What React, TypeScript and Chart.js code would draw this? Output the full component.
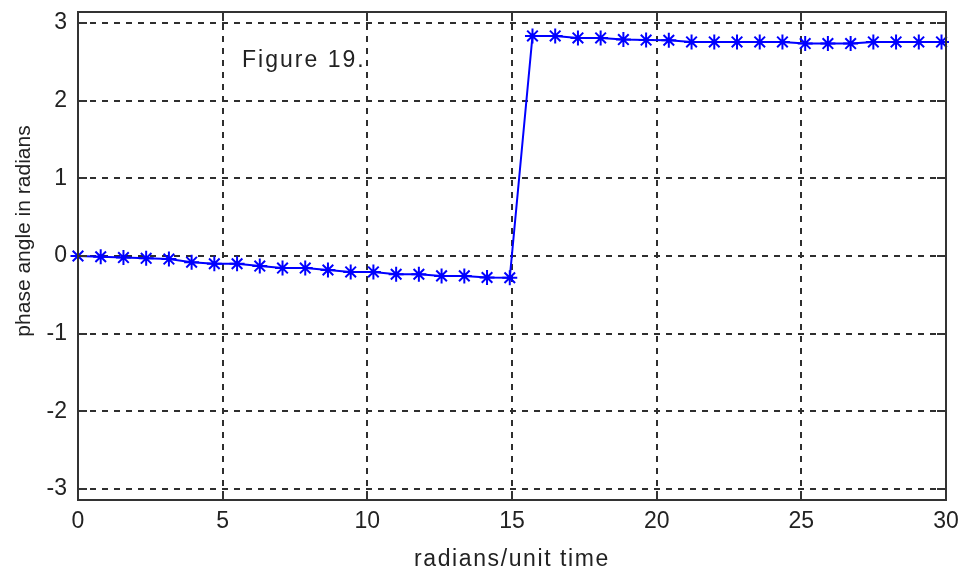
import React, { useEffect, useRef } from "react";
import { Chart, registerables } from "chart.js";

Chart.register(...registerables);

// angular frequency (radians / unit time)
const frequency = [
  0, 0.785, 1.571, 2.356, 3.142, 3.927, 4.712, 5.498, 6.283, 7.069,
  7.854, 8.639, 9.425, 10.21, 10.996, 11.781, 12.566, 13.352, 14.137, 14.923,
  15.708, 16.493, 17.279, 18.064, 18.85, 19.635, 20.42, 21.206, 21.991, 22.777,
  23.562, 24.347, 25.133, 25.918, 26.704, 27.489, 28.274, 29.06, 29.845,
];

// phase angle (radians)
const phase = [
  0, -0.01, -0.02, -0.03, -0.04, -0.08, -0.1, -0.1, -0.13, -0.155,
  -0.155, -0.18, -0.205, -0.205, -0.235, -0.235, -0.256, -0.256, -0.277, -0.28,
  2.833, 2.833, 2.808, 2.808, 2.787, 2.78, 2.778, 2.756, 2.756, 2.756,
  2.756, 2.756, 2.735, 2.735, 2.735, 2.756, 2.756, 2.756, 2.756,
];

const xTicks = [0, 5, 10, 15, 20, 25, 30];
const yTicks = [-3, -2, -1, 0, 1, 2, 3];
const xTitle = "radians/unit time";
const yTitle = "phase angle in radians";
const noteText = "Figure 19.";
const notePos = { x: 5.67, y: 2.43 };

const TEXT_COLOR = "#222222";
const FONT_FAMILY = '"Liberation Sans", Arial, sans-serif';

const matlabAxes = {
  id: "matlabAxes",
  beforeDatasetsDraw(chart: any) {
    const { ctx, chartArea: a, scales } = chart;
    const x = scales.x;
    const y = scales.y;
    ctx.save();
    ctx.strokeStyle = "#2e2e2e";
    ctx.lineWidth = 2;
    ctx.setLineDash([6, 6]);
    for (const t of xTicks) {
      const px = Math.round(x.getPixelForValue(t));
      if (px <= a.left + 1 || px >= a.right - 1) continue;
      ctx.beginPath();
      ctx.moveTo(px, a.top);
      ctx.lineTo(px, a.bottom);
      ctx.stroke();
    }
    for (const t of yTicks) {
      const py = Math.round(y.getPixelForValue(t));
      ctx.beginPath();
      ctx.moveTo(a.left, py);
      ctx.lineTo(a.right, py);
      ctx.stroke();
    }
    ctx.restore();
  },
  afterDatasetsDraw(chart: any) {
    const { ctx, chartArea: a, scales } = chart;
    const x = scales.x;
    const y = scales.y;
    ctx.save();
    ctx.setLineDash([]);
    ctx.strokeStyle = "#333333";
    ctx.lineWidth = 2;
    ctx.strokeRect(a.left, a.top, a.right - a.left, a.bottom - a.top);
    const tl = 9;
    ctx.lineWidth = 2;
    for (const t of xTicks) {
      const px = Math.round(x.getPixelForValue(t));
      ctx.beginPath();
      ctx.moveTo(px, a.bottom);
      ctx.lineTo(px, a.bottom - tl);
      ctx.moveTo(px, a.top);
      ctx.lineTo(px, a.top + tl);
      ctx.stroke();
    }
    for (const t of yTicks) {
      const py = Math.round(y.getPixelForValue(t));
      ctx.beginPath();
      ctx.moveTo(a.left, py);
      ctx.lineTo(a.left + tl, py);
      ctx.moveTo(a.right, py);
      ctx.lineTo(a.right - tl, py);
      ctx.stroke();
    }
    // annotation
    ctx.fillStyle = TEXT_COLOR;
    ctx.font = `23px ${FONT_FAMILY}`;
    try { (ctx as any).letterSpacing = "2px"; } catch (e) {}
    ctx.textAlign = "left";
    ctx.textBaseline = "alphabetic";
    ctx.fillText(noteText, x.getPixelForValue(notePos.x), y.getPixelForValue(notePos.y));
    ctx.restore();
  },
  afterDraw(chart: any) {
    const { ctx, chartArea: a } = chart;
    ctx.save();
    ctx.fillStyle = TEXT_COLOR;
    ctx.font = `23px ${FONT_FAMILY}`;
    try { (ctx as any).letterSpacing = "1.6px"; } catch (e) {}
    ctx.textAlign = "center";
    ctx.textBaseline = "alphabetic";
    ctx.fillText(xTitle, (a.left + a.right) / 2, a.bottom + 66);
    try { (ctx as any).letterSpacing = "0px"; } catch (e) {}
    ctx.translate(24, (a.top + a.bottom) / 2 - 25);
    ctx.rotate(-Math.PI / 2);
    ctx.font = `21px ${FONT_FAMILY}`;
    ctx.textBaseline = "middle";
    ctx.fillText(yTitle, 0, 0);
    ctx.restore();
  },
};

export default function App() {
  const canvasRef = useRef<HTMLCanvasElement | null>(null);

  useEffect(() => {
    const canvas = canvasRef.current;
    if (!canvas) return;
    const chart = new Chart(canvas, {
      type: "line",
      data: {
        datasets: [
          {
            data: frequency.map((f, i) => ({ x: f, y: phase[i] })),
            borderColor: "#0000ff",
            backgroundColor: "#0000ff",
            borderWidth: 2,
            pointStyle: "star",
            pointRadius: 7.5,
            pointBorderWidth: 2,
            pointBorderColor: "#0000ff",
            pointBackgroundColor: "#0000ff",
            tension: 0,
            fill: false,
            clip: false as any,
          },
        ],
      },
      options: {
        responsive: false,
        animation: false,
        events: [],
        layout: { padding: { top: 12, right: 15, left: 0, bottom: 0 } },
        plugins: { legend: { display: false }, tooltip: { enabled: false }, title: { display: false } },
        scales: {
          x: {
            type: "linear",
            min: 0,
            max: 30,
            grid: { display: false, drawTicks: false },
            border: { display: false },
            afterBuildTicks: (s: any) => { s.ticks = xTicks.map((v) => ({ value: v })); },
            afterFit: (s: any) => {
              s.height = 72;
              s.paddingLeft = 0;
              s.paddingRight = 0;
            },
            ticks: {
              color: TEXT_COLOR,
              padding: 8,
              maxRotation: 0,
              font: { family: FONT_FAMILY, size: 23 },
            },
          },
          y: {
            type: "linear",
            min: -Math.PI,
            max: Math.PI,
            grid: { display: false, drawTicks: false },
            border: { display: false },
            afterBuildTicks: (s: any) => { s.ticks = yTicks.map((v) => ({ value: v })); },
            afterFit: (s: any) => {
              s.width = 78;
              s.paddingTop = 0;
              s.paddingBottom = 0;
            },
            ticks: {
              color: TEXT_COLOR,
              padding: 11,
              font: { family: FONT_FAMILY, size: 23 },
            },
          },
        },
      },
      plugins: [matlabAxes],
    });
    return () => chart.destroy();
  }, []);

  return (
    <div style={{ position: "absolute", left: 0, top: 0, width: 961, height: 572, background: "#fff" }}>
      <canvas ref={canvasRef} width={961} height={572} />
    </div>
  );
}
